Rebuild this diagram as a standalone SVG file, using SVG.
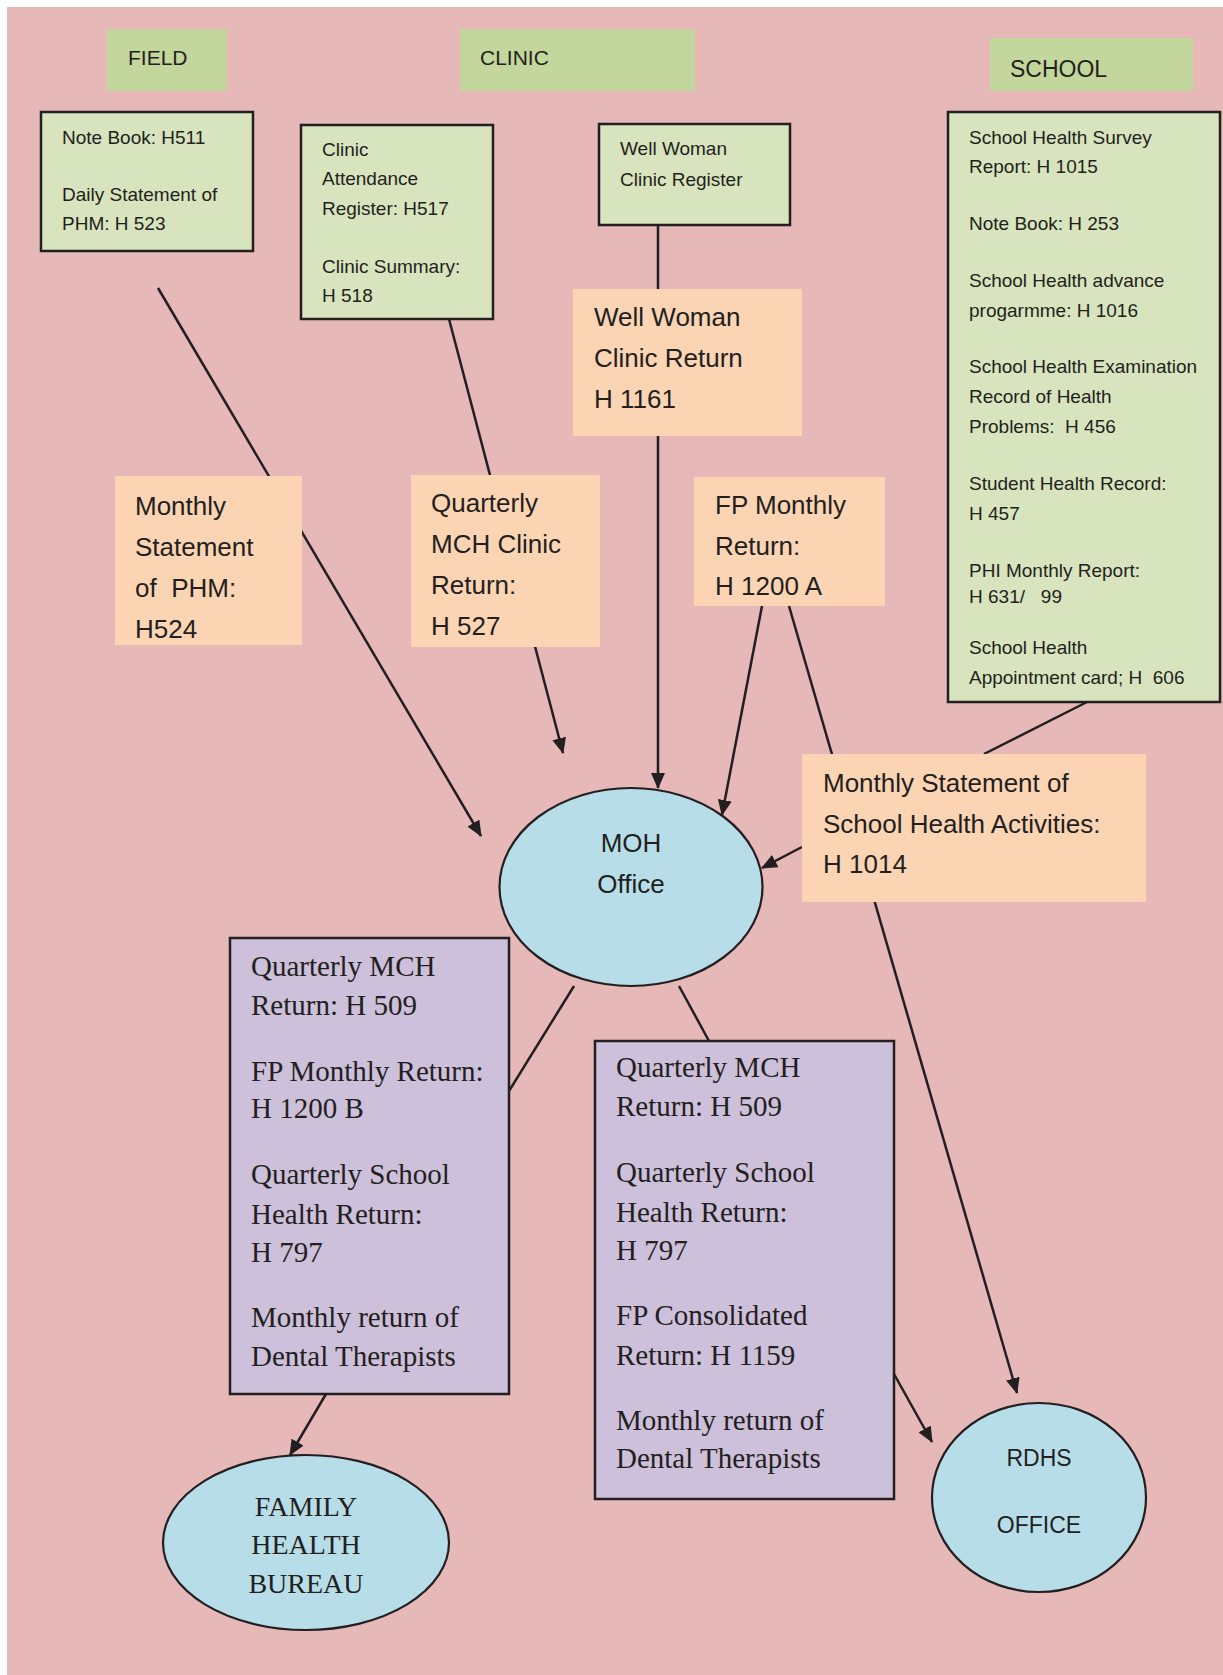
<svg xmlns="http://www.w3.org/2000/svg" width="1223" height="1675" viewBox="0 0 1223 1675">
<style>
.hdr{fill:#C3D69B}
.grn{fill:#D7E4BD;stroke:#231F20;stroke-width:2.5}
.org{fill:#FBD4B4}
.pur{fill:#CCC0DA;stroke:#231F20;stroke-width:2.5}
.ell{fill:#B7DEE8;stroke:#231F20;stroke-width:2.2}
.s{font-family:"Liberation Sans",Arial,sans-serif;fill:#231F20}
.t19{font-size:19px}
.t26{font-size:26px}
.t21{font-size:21px}
.t23{font-size:23px}
.r{font-family:"Liberation Serif","Times New Roman",serif;fill:#231F20;font-size:29px}
.mid{text-anchor:middle}
.ln{stroke:#231F20;stroke-width:2.5;fill:none}
.arr{marker-end:url(#ah)}
</style>
<defs>
<marker id="ah" viewBox="0 0 16 14" refX="15" refY="7" markerWidth="16" markerHeight="14" markerUnits="userSpaceOnUse" orient="auto">
<path d="M0,0 L16,7 L0,14 z" fill="#231F20"/>
</marker>
</defs>
<rect x="7" y="7" width="1216" height="1668" fill="#E6B8B7"/>

<g id="connectors">
<line class="ln arr" x1="158" y1="288" x2="481" y2="836"/>
<line class="ln arr" x1="449" y1="319" x2="563" y2="753"/>
<line class="ln arr" x1="658" y1="225" x2="658" y2="788"/>
<line class="ln arr" x1="762" y1="606" x2="722" y2="815"/>
<line class="ln arr" x1="789" y1="606" x2="1017" y2="1393"/>
<line class="ln" x1="1087" y1="702" x2="984" y2="754"/>
<line class="ln arr" x1="802" y1="847" x2="762" y2="868"/>
<line class="ln" x1="574" y1="986" x2="509" y2="1091"/>
<line class="ln" x1="679" y1="986" x2="709" y2="1041"/>
<line class="ln arr" x1="326" y1="1394" x2="290" y2="1455"/>
<line class="ln arr" x1="894" y1="1374" x2="932" y2="1442"/>
</g>

<g id="hdr-field">
<rect class="hdr" x="107" y="29" width="120" height="62"/>
<text class="s t21" x="128" y="65">FIELD</text>
</g>
<g id="hdr-clinic">
<rect class="hdr" x="460" y="29" width="235" height="62"/>
<text class="s t21" x="480" y="65">CLINIC</text>
</g>
<g id="hdr-school">
<rect class="hdr" x="990" y="38" width="203" height="53"/>
<text class="s t23" x="1010" y="77">SCHOOL</text>
</g>

<g id="field-records">
<rect class="grn" x="41" y="112" width="212" height="139"/>
<text class="s t19" x="62" y="144">Note Book: H511</text>
<text class="s t19" x="62" y="201">Daily Statement of</text>
<text class="s t19" x="62" y="230">PHM: H 523</text>
</g>

<g id="clinic-records">
<rect class="grn" x="301" y="125" width="192" height="194"/>
<text class="s t19" x="322" y="156">Clinic</text>
<text class="s t19" x="322" y="185">Attendance</text>
<text class="s t19" x="322" y="215">Register: H517</text>
<text class="s t19" x="322" y="273">Clinic Summary:</text>
<text class="s t19" x="322" y="302">H 518</text>
</g>

<g id="wellwoman-register">
<rect class="grn" x="599" y="124" width="191" height="101"/>
<text class="s t19" x="620" y="155">Well Woman</text>
<text class="s t19" x="620" y="186">Clinic Register</text>
</g>

<g id="school-records">
<rect class="grn" x="948" y="112" width="272" height="590"/>
<text class="s t19" x="969" y="144">School Health Survey</text>
<text class="s t19" x="969" y="173">Report: H 1015</text>
<text class="s t19" x="969" y="230">Note Book: H 253</text>
<text class="s t19" x="969" y="287">School Health advance</text>
<text class="s t19" x="969" y="317">progarmme: H 1016</text>
<text class="s t19" x="969" y="373">School Health Examination</text>
<text class="s t19" x="969" y="403">Record of Health</text>
<text class="s t19" x="969" y="433" xml:space="preserve" style="white-space:pre">Problems:  H 456</text>
<text class="s t19" x="969" y="490">Student Health Record:</text>
<text class="s t19" x="969" y="520">H 457</text>
<text class="s t19" x="969" y="577">PHI Monthly Report:</text>
<text class="s t19" x="969" y="603" xml:space="preserve" style="white-space:pre">H 631/   99</text>
<text class="s t19" x="969" y="654">School Health</text>
<text class="s t19" x="969" y="684" xml:space="preserve" style="white-space:pre">Appointment card; H  606</text>
</g>

<g id="wellwoman-return">
<rect class="org" x="573" y="289" width="229" height="147"/>
<text class="s t26" x="594" y="326">Well Woman</text>
<text class="s t26" x="594" y="367">Clinic Return</text>
<text class="s t26" x="594" y="408">H 1161</text>
</g>

<g id="phm-monthly">
<rect class="org" x="115" y="476" width="187" height="169"/>
<text class="s t26" x="135" y="515">Monthly</text>
<text class="s t26" x="135" y="556">Statement</text>
<text class="s t26" x="135" y="597" xml:space="preserve" style="white-space:pre">of  PHM:</text>
<text class="s t26" x="135" y="638">H524</text>
</g>

<g id="mch-quarterly">
<rect class="org" x="411" y="475" width="189" height="172"/>
<text class="s t26" x="431" y="512">Quarterly</text>
<text class="s t26" x="431" y="553">MCH Clinic</text>
<text class="s t26" x="431" y="594">Return:</text>
<text class="s t26" x="431" y="635">H 527</text>
</g>

<g id="fp-monthly">
<rect class="org" x="694" y="477" width="191" height="129"/>
<text class="s t26" x="715" y="514">FP Monthly</text>
<text class="s t26" x="715" y="555">Return:</text>
<text class="s t26" x="715" y="595">H 1200 A</text>
</g>

<g id="school-monthly">
<rect class="org" x="802" y="754" width="344" height="148"/>
<text class="s t26" x="823" y="792">Monthly Statement of</text>
<text class="s t26" x="823" y="833">School Health Activities:</text>
<text class="s t26" x="823" y="873">H 1014</text>
</g>

<g id="moh-office">
<ellipse class="ell" cx="631" cy="887" rx="131.5" ry="99"/>
<text class="s t26 mid" x="631" y="852">MOH</text>
<text class="s t26 mid" x="631" y="893">Office</text>
</g>

<g id="returns-fhb">
<rect class="pur" x="230" y="938" width="279" height="456"/>
<text class="r" x="251" y="976">Quarterly MCH</text>
<text class="r" x="251" y="1015">Return: H 509</text>
<text class="r" x="251" y="1081">FP Monthly Return:</text>
<text class="r" x="251" y="1118">H 1200 B</text>
<text class="r" x="251" y="1184">Quarterly School</text>
<text class="r" x="251" y="1224">Health Return:</text>
<text class="r" x="251" y="1262">H 797</text>
<text class="r" x="251" y="1327">Monthly return of</text>
<text class="r" x="251" y="1366">Dental Therapists</text>
</g>

<g id="returns-rdhs">
<rect class="pur" x="595" y="1041" width="299" height="458"/>
<text class="r" x="616" y="1077">Quarterly MCH</text>
<text class="r" x="616" y="1116">Return: H 509</text>
<text class="r" x="616" y="1182">Quarterly School</text>
<text class="r" x="616" y="1222">Health Return:</text>
<text class="r" x="616" y="1260">H 797</text>
<text class="r" x="616" y="1325">FP Consolidated</text>
<text class="r" x="616" y="1365">Return: H 1159</text>
<text class="r" x="616" y="1430">Monthly return of</text>
<text class="r" x="616" y="1468">Dental Therapists</text>
</g>

<g id="fhb">
<ellipse class="ell" cx="306" cy="1542.5" rx="143" ry="87.5"/>
<text class="r mid" x="306" y="1516" style="font-size:28px">FAMILY</text>
<text class="r mid" x="306" y="1554" style="font-size:28px">HEALTH</text>
<text class="r mid" x="306" y="1593" style="font-size:28px">BUREAU</text>
</g>

<g id="rdhs">
<ellipse class="ell" cx="1039" cy="1497.5" rx="107" ry="94.5"/>
<text class="s t23 mid" x="1039" y="1466">RDHS</text>
<text class="s t23 mid" x="1039" y="1533">OFFICE</text>
</g>
</svg>
